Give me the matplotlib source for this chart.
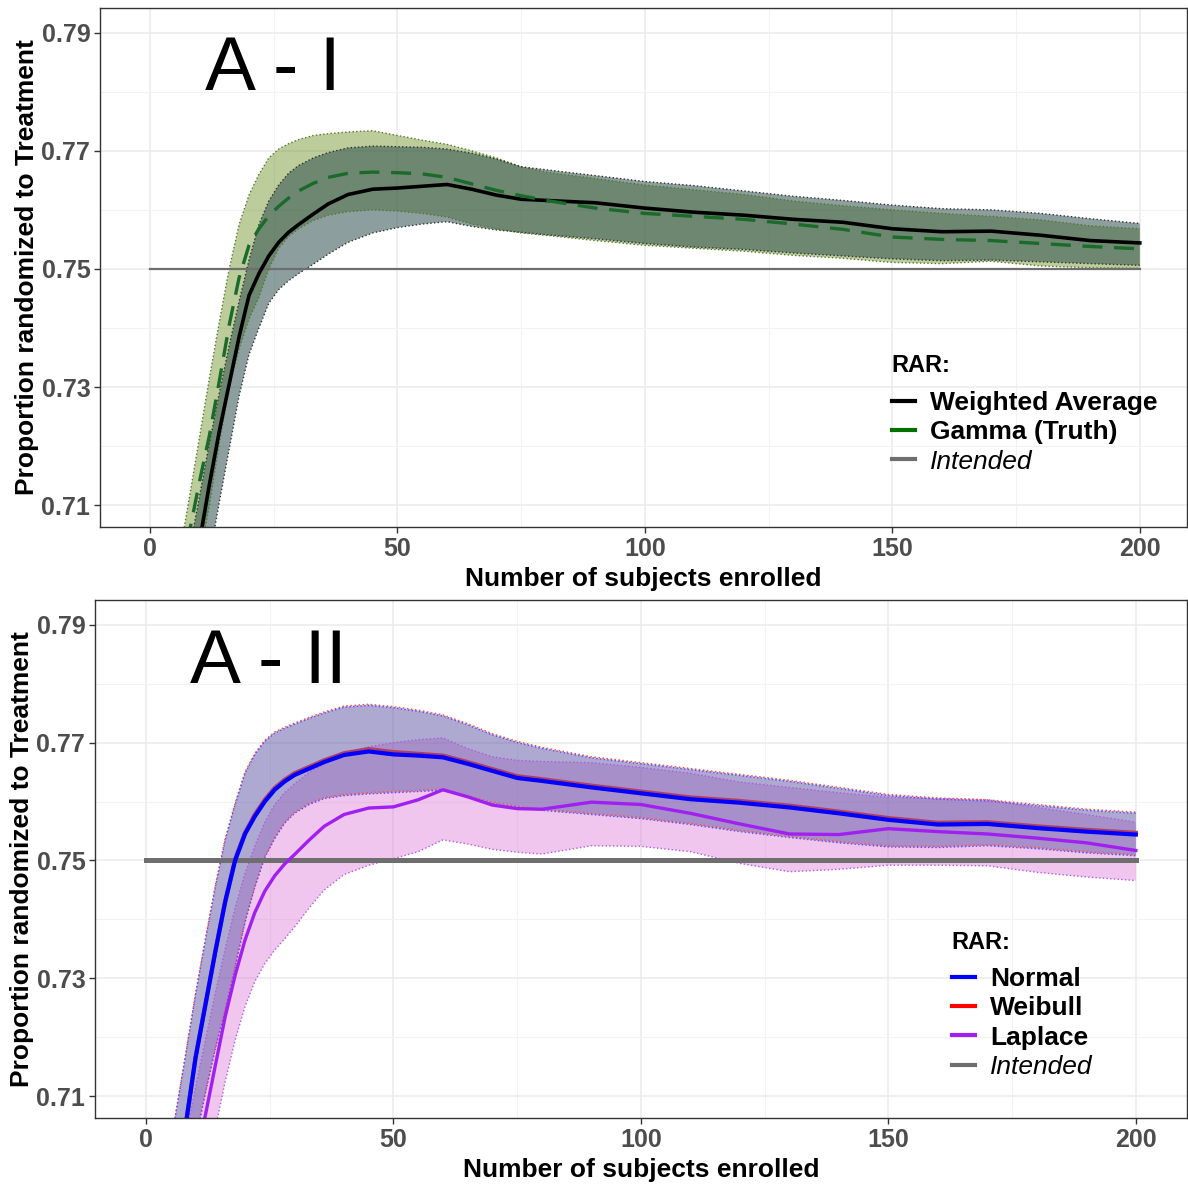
import numpy as np
import matplotlib.pyplot as plt
from matplotlib.lines import Line2D

plt.rcParams['font.family'] = ['Liberation Sans', 'DejaVu Sans']

# shared x grid (number of subjects enrolled)
n_sub = [5, 8, 10, 12, 14, 16, 18, 20, 22, 24, 26, 28, 30, 33, 36, 40, 45, 50, 55, 60,
         65, 70, 75, 80, 90, 100, 110, 120, 130, 140, 150, 160, 170, 180, 190, 200]

# ---- panel A - I ----
wavg = [0.681, 0.6945, 0.7038, 0.7135, 0.7225, 0.7305, 0.7385, 0.7455, 0.7492, 0.7522,
        0.7545, 0.7562, 0.7575, 0.7593, 0.7610, 0.7626, 0.7635, 0.7637, 0.7640, 0.7643,
        0.7635, 0.7625, 0.7618, 0.7616, 0.7612, 0.7603, 0.7596, 0.7591, 0.7584, 0.7579,
        0.7568, 0.7563, 0.7564, 0.7557, 0.7548, 0.7544]
wavg_hi = [0.689, 0.7025, 0.7115, 0.7205, 0.7290, 0.7370, 0.7445, 0.7515, 0.7575, 0.7615,
           0.7642, 0.7662, 0.7675, 0.7688, 0.7697, 0.7705, 0.7708, 0.7707, 0.7706, 0.7703,
           0.7696, 0.7686, 0.7673, 0.7668, 0.7658, 0.7648, 0.7641, 0.7632, 0.7623, 0.7616,
           0.7608, 0.7602, 0.7600, 0.7594, 0.7585, 0.7577]
wavg_lo = [0.669, 0.683, 0.692, 0.701, 0.7105, 0.7195, 0.7285, 0.7355, 0.7400, 0.7442,
           0.7465, 0.7480, 0.7492, 0.7508, 0.7525, 0.7545, 0.7561, 0.7570, 0.7576, 0.7580,
           0.7572, 0.7566, 0.7562, 0.7558, 0.7551, 0.7543, 0.7537, 0.7533, 0.7527, 0.7522,
           0.7517, 0.7514, 0.7515, 0.7512, 0.7509, 0.7506]
gamma = [0.693, 0.7056, 0.7140, 0.7218, 0.7310, 0.7405, 0.7485, 0.7540, 0.7568, 0.7590,
         0.7606, 0.7620, 0.7632, 0.7645, 0.7655, 0.7662, 0.7664, 0.7663, 0.7661, 0.7655,
         0.7644, 0.7633, 0.7624, 0.7616, 0.7603, 0.7594, 0.7589, 0.7584, 0.7576, 0.7567,
         0.7554, 0.7550, 0.7548, 0.7543, 0.7538, 0.7534]
gamma_hi = [0.697, 0.7115, 0.7215, 0.7315, 0.7410, 0.7500, 0.7575, 0.7625, 0.7660, 0.7688,
            0.7703, 0.7712, 0.7719, 0.7726, 0.7729, 0.7732, 0.7734, 0.7726, 0.7718, 0.7711,
            0.7700, 0.7688, 0.7673, 0.7664, 0.7653, 0.7642, 0.7634, 0.7626, 0.7615, 0.7607,
            0.7600, 0.7594, 0.7589, 0.7583, 0.7573, 0.7568]
gamma_lo = [0.680, 0.692, 0.701, 0.710, 0.7205, 0.7300, 0.7365, 0.7415, 0.7452, 0.7500,
            0.7535, 0.7555, 0.7568, 0.7582, 0.7591, 0.7597, 0.7600, 0.7598, 0.7594, 0.7588,
            0.7576, 0.7568, 0.7561, 0.7557, 0.7548, 0.7540, 0.7535, 0.7530, 0.7523, 0.7518,
            0.7511, 0.7509, 0.7513, 0.7505, 0.7502, 0.7501]

# ---- panel A - II ----
normal = [0.6895, 0.705, 0.7165, 0.7255, 0.7345, 0.7430, 0.7500, 0.7545, 0.7575, 0.7600,
          0.7620, 0.7634, 0.7645, 0.7656, 0.7667, 0.7679, 0.7685, 0.7680, 0.7678, 0.7675,
          0.7664, 0.7652, 0.7640, 0.7635, 0.7624, 0.7614, 0.7604, 0.7598, 0.7590, 0.7580,
          0.7569, 0.7561, 0.7562, 0.7555, 0.7549, 0.7544]
normal_hi = [0.702, 0.717, 0.7272, 0.7365, 0.7455, 0.7535, 0.7595, 0.7648, 0.7680, 0.7702,
             0.7716, 0.7724, 0.7731, 0.7741, 0.7750, 0.7760, 0.7763, 0.7759, 0.7753, 0.7745,
             0.7730, 0.7713, 0.7700, 0.7690, 0.7674, 0.7664, 0.7654, 0.7644, 0.7634, 0.7622,
             0.7610, 0.7604, 0.7601, 0.7593, 0.7585, 0.7580]
normal_lo = [0.683, 0.6945, 0.7025, 0.7105, 0.7180, 0.7245, 0.7318, 0.7395, 0.7455, 0.7505,
             0.7537, 0.7563, 0.7580, 0.7595, 0.7605, 0.7610, 0.7613, 0.7615, 0.7617, 0.7619,
             0.7608, 0.7597, 0.7590, 0.7585, 0.7578, 0.7571, 0.7561, 0.7549, 0.7539, 0.7530,
             0.7523, 0.7522, 0.7525, 0.7520, 0.7513, 0.7508]
weibull = [0.6895, 0.705, 0.7165, 0.7256, 0.7346, 0.7431, 0.7502, 0.7547, 0.7578, 0.7603,
           0.7623, 0.7637, 0.7648, 0.7659, 0.7670, 0.7682, 0.7689, 0.7684, 0.7681, 0.7678,
           0.7667, 0.7655, 0.7643, 0.7638, 0.7627, 0.7617, 0.7607, 0.7601, 0.7593, 0.7583,
           0.7572, 0.7564, 0.7565, 0.7558, 0.7552, 0.7547]
weibull_hi = [0.702, 0.717, 0.7274, 0.7367, 0.7457, 0.7537, 0.7597, 0.7650, 0.7682, 0.7704,
              0.7718, 0.7726, 0.7733, 0.7743, 0.7752, 0.7762, 0.7765, 0.7761, 0.7755, 0.7747,
              0.7732, 0.7715, 0.7702, 0.7692, 0.7676, 0.7666, 0.7656, 0.7646, 0.7636, 0.7624,
              0.7612, 0.7606, 0.7603, 0.7595, 0.7587, 0.7582]
weibull_lo = [0.683, 0.6945, 0.7027, 0.7107, 0.7182, 0.7247, 0.7320, 0.7397, 0.7457, 0.7507,
              0.7539, 0.7565, 0.7582, 0.7597, 0.7607, 0.7612, 0.7615, 0.7617, 0.7619, 0.7621,
              0.7610, 0.7599, 0.7592, 0.7587, 0.7580, 0.7573, 0.7563, 0.7551, 0.7541, 0.7532,
              0.7525, 0.7524, 0.7527, 0.7522, 0.7515, 0.7510]
laplace = [0.678, 0.690, 0.6995, 0.7068, 0.7152, 0.7235, 0.7305, 0.7365, 0.7412, 0.7448,
           0.7474, 0.7494, 0.7510, 0.7535, 0.7558, 0.7578, 0.7589, 0.7591, 0.7603, 0.7620,
           0.7608, 0.7594, 0.7588, 0.7587, 0.7599, 0.7595, 0.7580, 0.7562, 0.7545, 0.7544,
           0.7554, 0.7549, 0.7545, 0.7538, 0.7530, 0.7517]
laplace_hi = [0.690, 0.703, 0.7115, 0.7195, 0.7275, 0.7350, 0.7420, 0.7478, 0.7525, 0.7565,
              0.7595, 0.7615, 0.7630, 0.7650, 0.7664, 0.7682, 0.7693, 0.7700, 0.7705, 0.7708,
              0.7690, 0.7676, 0.7670, 0.7668, 0.7666, 0.7658, 0.7648, 0.7633, 0.7624, 0.7615,
              0.7607, 0.7605, 0.7603, 0.7590, 0.7578, 0.7565]
laplace_lo = [0.667, 0.680, 0.6885, 0.6965, 0.7045, 0.7125, 0.7195, 0.7252, 0.7295, 0.7325,
              0.7348, 0.7367, 0.7387, 0.7420, 0.7450, 0.7476, 0.7492, 0.7503, 0.7515, 0.7535,
              0.7528, 0.7519, 0.7514, 0.7511, 0.7525, 0.7524, 0.7515, 0.7495, 0.7481, 0.7485,
              0.7492, 0.7492, 0.7491, 0.7480, 0.7472, 0.7466]

intended_x = [0, 200]
intended_y = [0.75, 0.75]

ytick_vals = [0.71, 0.73, 0.75, 0.77, 0.79]
xtick_vals = [0, 50, 100, 150, 200]


def style_axes(ax, xlim):
    ax.set_xlim(*xlim)
    ax.set_ylim(0.7063, 0.7942)
    ax.set_xticks(xtick_vals)
    ax.set_yticks(ytick_vals)
    ax.set_yticklabels([f'{v:.2f}' for v in ytick_vals])
    ax.set_xticks([25, 75, 125, 175], minor=True)
    ax.set_yticks([0.72, 0.74, 0.76, 0.78], minor=True)
    ax.grid(True, which='major', color='#EBEBEB', lw=1.1)
    ax.grid(True, which='minor', color='#F2F2F2', lw=0.8)
    ax.set_axisbelow(True)
    ax.tick_params(which='major', length=4, width=1, color='#333333',
                   labelsize=18, labelcolor='#4D4D4D', pad=3)
    ax.tick_params(which='minor', length=0)
    for lab in ax.get_xticklabels() + ax.get_yticklabels():
        lab.set_fontweight('bold')
    for sp in ax.spines.values():
        sp.set_color('#333333')
        sp.set_linewidth(1)
    ax.set_xlabel('Number of subjects enrolled', fontsize=19, fontweight='bold', labelpad=4.5)
    ax.set_ylabel('Proportion randomized to Treatment', fontsize=19, fontweight='bold', labelpad=2)


def add_legend(ax, handles, labels, x, y_title, y_top):
    ax.text(x, y_title, 'RAR:', transform=ax.transAxes, fontsize=17,
            fontweight='bold', va='baseline', ha='left')
    leg = ax.legend(handles, labels, loc='upper left', bbox_to_anchor=(x, y_top),
                    frameon=False, handlelength=0.87, handletextpad=0.57,
                    labelspacing=0.2, borderaxespad=0, borderpad=0,
                    prop={'size': 19, 'weight': 'bold'})
    leg.get_texts()[-1].set_fontweight('normal')
    leg.get_texts()[-1].set_fontstyle('italic')
    return leg


fig = plt.figure(figsize=(11.88, 11.86), dpi=100)

# ================= A - I =================
ax1 = fig.add_axes([0.0842, 0.5557, 0.9148, 0.4376])
ax1.fill_between(n_sub, gamma_lo, gamma_hi, facecolor='#6b8e23', alpha=0.45, lw=0)
ax1.fill_between(n_sub, wavg_lo, wavg_hi, facecolor='#2f4f4f', alpha=0.55, lw=0)
for band in (gamma_lo, gamma_hi):
    ax1.plot(n_sub, band, ls=':', color='#4f7a2a', lw=1)
for band in (wavg_lo, wavg_hi):
    ax1.plot(n_sub, band, ls=':', color='#333333', lw=1)
ax1.plot(intended_x, intended_y, color='#6E6E6E', lw=1.6)
ax1.plot(n_sub, wavg, color='black', lw=2.6)
ax1.plot(n_sub, gamma, color='#1a6b2a', lw=2.4, dashes=[6, 3.5])
style_axes(ax1, (-10.1, 209.5))
ax1.text(11.1, 0.7803, 'A - I', fontsize=55, color='black')

h1 = [Line2D([], [], color='black', lw=3),
      Line2D([], [], color='#007000', lw=3),
      Line2D([], [], color='#6E6E6E', lw=3)]
add_legend(ax1, h1, ['Weighted Average', 'Gamma (Truth)', 'Intended'],
           0.7286, 0.2987, 0.262)

# ================= A - II =================
ax2 = fig.add_axes([0.080, 0.0573, 0.919, 0.4368])
ax2.fill_between(n_sub, laplace_lo, laplace_hi, facecolor='#da70d6', alpha=0.4, lw=0)
ax2.fill_between(n_sub, weibull_lo, weibull_hi, facecolor='#8c738c', alpha=0.3, lw=0)
ax2.fill_between(n_sub, normal_lo, normal_hi, facecolor='#5959bf', alpha=0.35, lw=0)
for band in (laplace_lo, laplace_hi):
    ax2.plot(n_sub, band, ls=':', color='#b05ae0', lw=1)
for band in (weibull_lo, weibull_hi):
    ax2.plot(n_sub, band, ls=':', color='#ff5050', lw=1.1)
for band in (normal_lo, normal_hi):
    ax2.plot(n_sub, band, ls=':', color='#5050ff', lw=1)
ax2.plot(intended_x, intended_y, color='#6E6E6E', lw=3.6)
ax2.plot(n_sub, laplace, color='#A020F0', lw=2.4)
ax2.plot(n_sub, weibull, color='#b04060', lw=3)
ax2.plot(n_sub, normal, color='#0000ff', lw=3)
style_axes(ax2, (-10.3, 210.3))
ax2.text(8.9, 0.7802, 'A - II', fontsize=55, color='black')

h2 = [Line2D([], [], color='#0000ff', lw=3),
      Line2D([], [], color='#ff0000', lw=3),
      Line2D([], [], color='#A020F0', lw=3),
      Line2D([], [], color='#6E6E6E', lw=3)]
add_legend(ax2, h2, ['Normal', 'Weibull', 'Laplace', 'Intended'],
           0.7848, 0.326, 0.2915)

fig.savefig('out.png', dpi=100)
